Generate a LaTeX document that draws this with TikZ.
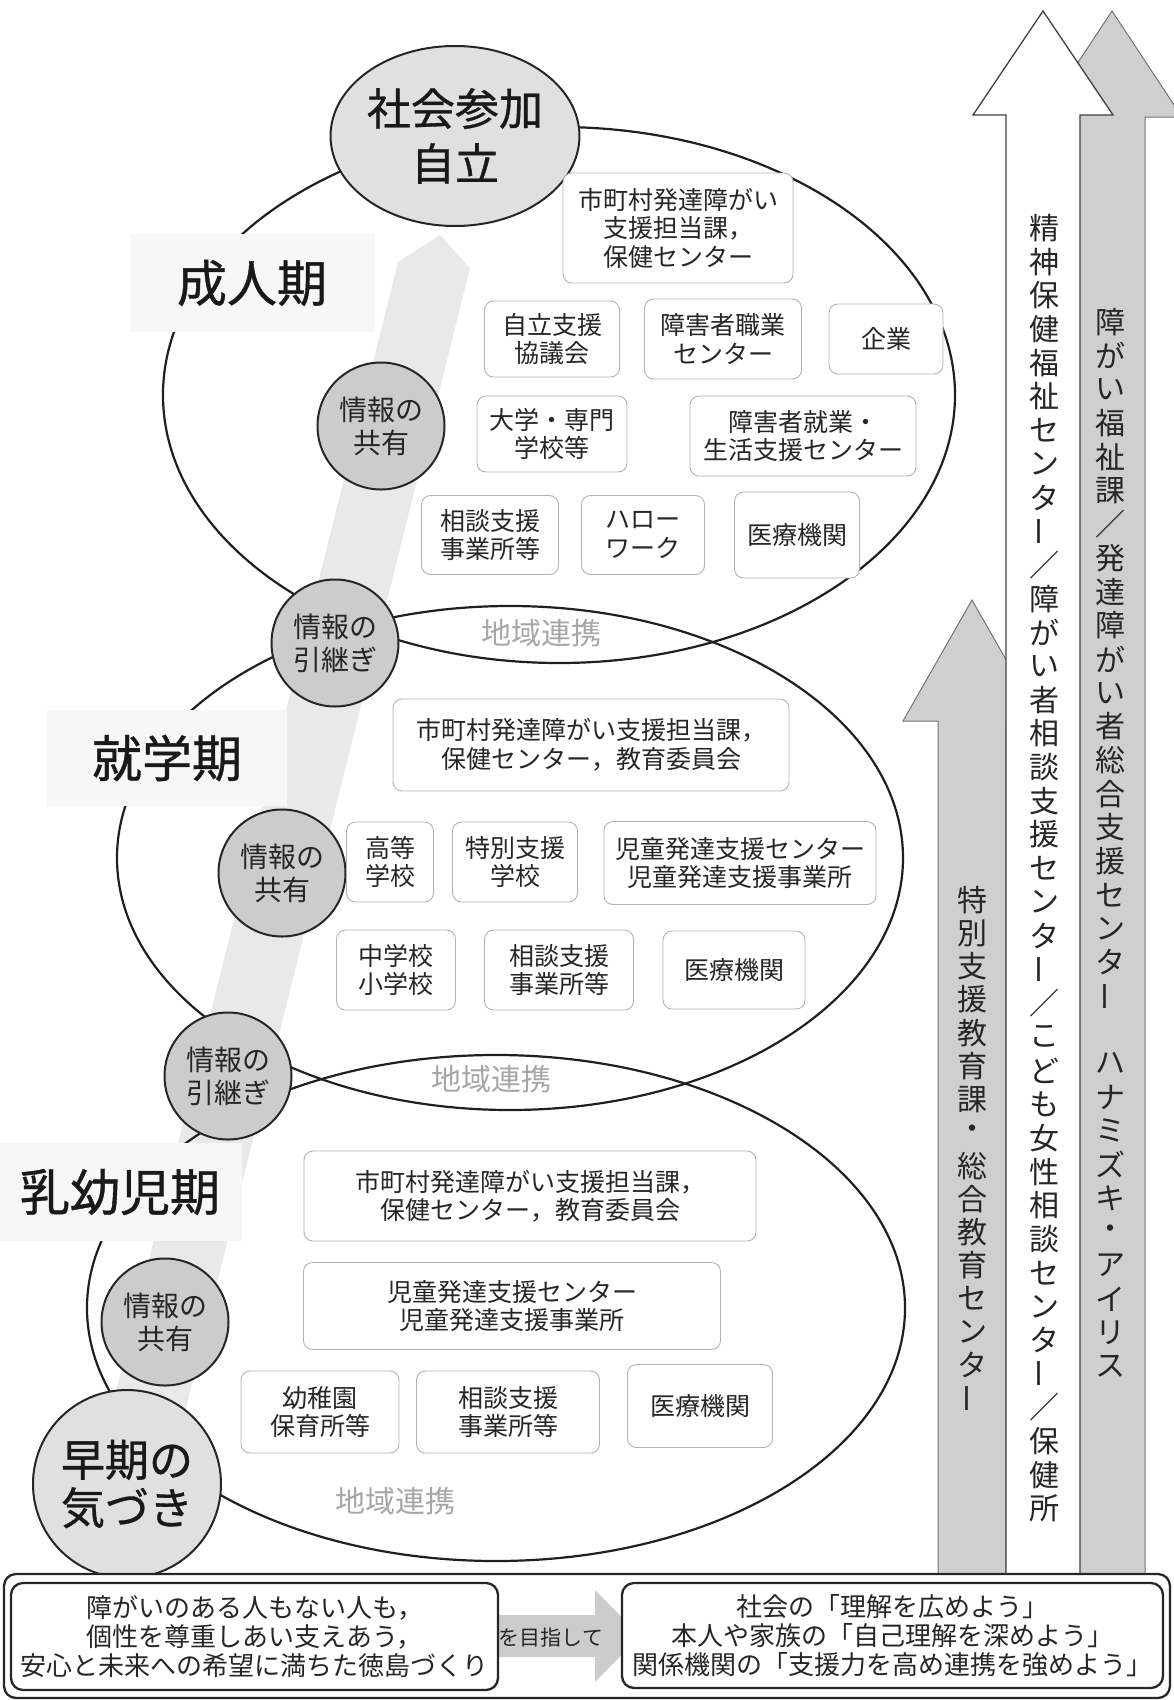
\documentclass[tikz,border=0pt]{standalone}
\usepackage{fontspec}
\setmainfont{Noto Sans CJK JP}
\newfontfamily\futo[FakeBold=0.8]{Noto Sans CJK JP}
\usetikzlibrary{shapes.geometric}
\definecolor{sumi}{gray}{0.15}
\definecolor{maruiro}{gray}{0.80}
\definecolor{usuiro}{gray}{0.88}
\definecolor{obiiro}{gray}{0.915}
\definecolor{yajiiro}{gray}{0.81}
\newcommand\tbar{\rotatebox[origin=c]{90}{ー}}

\begin{document}
\begin{tikzpicture}[x=1pt,y=-1pt,
    kikan/.style={draw=black!30, line width=0.9pt, rounded corners=9pt, fill=white, align=center, text=sumi, inner sep=0pt, font=\fontsize{25}{28.5}\selectfont},
    maru/.style={circle, draw=black!85, line width=2pt, fill=maruiro, align=center, text=sumi, inner sep=0pt, minimum size=127pt, font=\fontsize{28}{33}\selectfont},
    ookimaru/.style={draw=black!85, line width=2pt, fill=usuiro, align=center, text=black!90, inner sep=0pt, font=\futo\fontsize{44}{55}\selectfont},
    kaiki/.style={fill=black!3, inner sep=0pt, text=black!90, font=\futo\fontsize{50}{50}\selectfont},
    chiiki/.style={text=black!35, font=\fontsize{30}{30}\selectfont},
    moji/.style={inner sep=0pt, text=sumi, font=\fontsize{30}{30}\selectfont},
    wa/.style={draw=black!88, line width=2.2pt},
    waku/.style={draw=black!85, line width=2.3pt, rounded corners=12pt}]
    \useasboundingbox (0,0) rectangle (1173,1700);

    %%%%%%%%%% Fascia %%%%%%%%%%
    \fill[obiiro] (398,262) -- (440,235) -- (470,268) -- (168,1480) -- (94,1480) -- cycle;

    %%%%%%%%%% Ellissi %%%%%%%%%%
    \draw[wa] (559,395) ellipse [x radius=396pt, y radius=268pt];
    \draw[wa] (510,858) ellipse [x radius=393pt, y radius=252pt];
    \draw[wa] (496,1308) ellipse [x radius=409pt, y radius=253pt];

    %%%%%%%%%% Periodi %%%%%%%%%%
    \node[kaiki, minimum width=245pt, minimum height=98pt] (seijin) at (252,283) {成人期};
    \node[kaiki, minimum width=240pt, minimum height=96pt] (shugaku) at (167,758) {就学期};
    \node[kaiki, minimum width=244pt, minimum height=98pt] (nyuyoji) at (120,1192) {乳幼児期};

    %%%%%%%%%% Cerchi %%%%%%%%%%
    \node[ookimaru, ellipse, minimum width=230pt, minimum height=180pt] (shakai) at (455,136) {社会参加\\自立};
    \node[maru] (kyoyu1) at (381,426) {情報の\\共有};
    \node[maru] (hikitsugi1) at (335,643) {情報の\\引継ぎ};
    \node[maru] (kyoyu2) at (282,873) {情報の\\共有};
    \node[maru] (hikitsugi2) at (228,1076) {情報の\\引継ぎ};
    \node[maru] (kyoyu3) at (165,1322) {情報の\\共有};
    \node[ookimaru, circle, minimum size=188pt, font=\futo\fontsize{44}{48}\selectfont] (kizuki) at (127,1484) {早期の\\気づき};

    %%%%%%%%%% Riquadri %%%%%%%%%%
    \node[kikan, minimum width=230pt, minimum height=110pt] (t1) at (678,228) {市町村発達障がい\\支援担当課，\\保健センター};
    \node[kikan, minimum width=135pt, minimum height=76pt] (t2) at (552,339) {自立支援\\協議会};
    \node[kikan, minimum width=157pt, minimum height=80pt] (t3) at (723,339) {障害者職業\\センター};
    \node[kikan, minimum width=114pt, minimum height=70pt] (t4) at (886,339) {企業};
    \node[kikan, minimum width=150pt, minimum height=76pt] (t5) at (552,434) {大学・専門\\学校等};
    \node[kikan, minimum width=226pt, minimum height=80pt] (t6) at (803,436) {障害者就業・\\生活支援センター};
    \node[kikan, minimum width=137pt, minimum height=79pt] (t7) at (490,535) {相談支援\\事業所等};
    \node[kikan, minimum width=123pt, minimum height=79pt] (t8) at (643,535) {ハロー\\ワーク};
    \node[kikan, minimum width=125pt, minimum height=86pt] (t9) at (797,535) {医療機関};

    \node[kikan, minimum width=396pt, minimum height=92pt] (m1) at (591,745) {市町村発達障がい支援担当課，\\保健センター，教育委員会};
    \node[kikan, minimum width=87pt, minimum height=80pt] (m2) at (390,862) {高等\\学校};
    \node[kikan, minimum width=125pt, minimum height=80pt] (m3) at (515,862) {特別支援\\学校};
    \node[kikan, minimum width=272pt, minimum height=83pt] (m4) at (740,863) {児童発達支援センター\\児童発達支援事業所};
    \node[kikan, minimum width=119pt, minimum height=80pt] (m5) at (396,970) {中学校\\小学校};
    \node[kikan, minimum width=149pt, minimum height=80pt] (m6) at (559,970) {相談支援\\事業所等};
    \node[kikan, minimum width=142pt, minimum height=78pt] (m7) at (734,970) {医療機関};

    \node[kikan, minimum width=452pt, minimum height=90pt] (b1) at (530,1196) {市町村発達障がい支援担当課，\\保健センター，教育委員会};
    \node[kikan, minimum width=417pt, minimum height=87pt] (b2) at (512,1306) {児童発達支援センター\\児童発達支援事業所};
    \node[kikan, minimum width=158pt, minimum height=82pt] (b3) at (320,1412) {幼稚園\\保育所等};
    \node[kikan, minimum width=183pt, minimum height=82pt] (b4) at (508,1412) {相談支援\\事業所等};
    \node[kikan, minimum width=145pt, minimum height=83pt] (b5) at (700,1406) {医療機関};

    \node[chiiki] (renkei1) at (541,633) {地域連携};
    \node[chiiki] (renkei2) at (491,1079) {地域連携};
    \node[chiiki] (renkei3) at (395,1501) {地域連携};

    %%%%%%%%% Frecce %%%%%%%%%
    \filldraw[fill=yajiiro, draw=black!55, line width=1pt] (1079,1574) -- (1079,117) -- (1042,117) -- (1112,11) -- (1182,117) -- (1145,117) -- (1145,1574) -- cycle;
    \filldraw[fill=yajiiro, draw=black!55, line width=1pt] (938,1574) -- (938,721) -- (903,721) -- (972,600) -- (1041,721) -- (1006,721) -- (1006,1574) -- cycle;
    \filldraw[fill=white, draw=black!75, line width=1.3pt] (1006,1574) -- (1006,115) -- (973,115) -- (1043,11) -- (1113,115) -- (1080,115) -- (1080,1574) -- cycle;

    % testo verticale
    \foreach \c [count=\i] in {精,神,保,健,福,祉,セ,ン,タ,\tbar,／,障,が,い,者,相,談,支,援,セ,ン,タ,\tbar,／,こ,ど,も,女,性,相,談,セ,ン,タ,\tbar,／,保,健,所}
        \node[moji] (tA-\i) at (1044,{228+33.7*(\i-1)}) {\c};
    \foreach \c [count=\i] in {障,が,い,福,祉,課,／,発,達,障,が,い,者,総,合,支,援,セ,ン,タ,\tbar,{},ハ,ナ,ミ,ズ,キ,・,ア,イ,リ,ス}
        \node[moji] (tB-\i) at (1110,{322+33.7*(\i-1)}) {\c};
    \foreach \c [count=\i] in {特,別,支,援,教,育,課,・,総,合,教,育,セ,ン,タ,\tbar}
        \node[moji] (tC-\i) at (972,{900+33.2*(\i-1)}) {\c};

    %%%%%%%%%% Riquadro in basso %%%%%%%%%%
    \draw[waku, fill=white] (4,1574) rectangle (1170,1698);
    \fill[black!20] (492,1615) -- (595,1615) -- (595,1590) -- (640,1636) -- (595,1682) -- (595,1657) -- (492,1657) -- cycle;
    \node[waku, fill=white, minimum width=487pt, minimum height=107pt, align=center, text=sumi, inner sep=0pt, font=\fontsize{26}{29}\selectfont] (mokuhyo) at (254.5,1636.5) {障がいのある人もない人も，\\個性を尊重しあい支えあう，\\安心と未来への希望に満ちた徳島づくり};
    \node[waku, fill=white, minimum width=541pt, minimum height=105pt, align=center, text=sumi, inner sep=0pt, font=\fontsize{26}{29}\selectfont] (yobikake) at (892.5,1635.5) {社会の「理解を広めよう」\\本人や家族の「自己理解を深めよう」\\関係機関の「支援力を高め連携を強めよう」};
    \node[text=sumi, font=\fontsize{21}{21}\selectfont] (mezashite) at (551,1637) {を目指して};
\end{tikzpicture}
\end{document}
